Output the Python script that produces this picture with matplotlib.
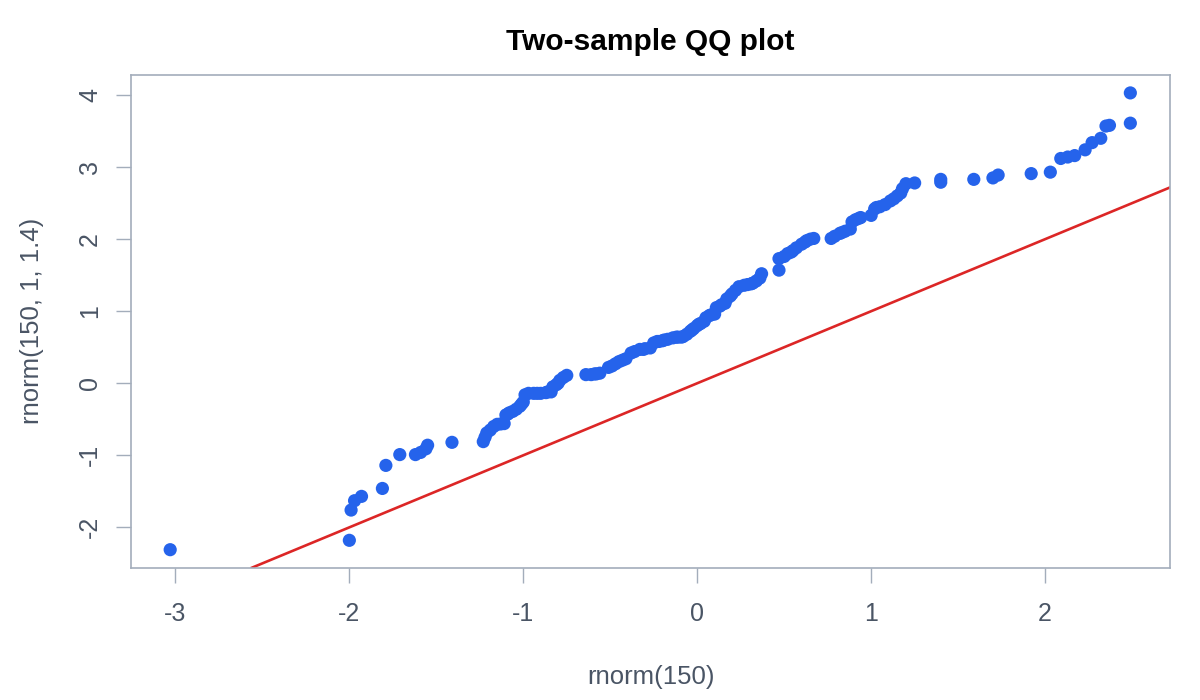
import numpy as np
import matplotlib
matplotlib.use("Agg")
import matplotlib.pyplot as plt

plt.rcParams['font.family'] = ['Liberation Sans', 'DejaVu Sans']

# sorted sample quantiles
x_vals = [-3.03, -2.00, -1.99, -1.97, -1.93, -1.81, -1.79, -1.71, -1.62, -1.59, -1.56, -1.55, -1.41,
          -1.23, -1.22, -1.21, -1.19, -1.17, -1.15, -1.13, -1.11, -1.10, -1.09, -1.08, -1.06,
          -1.04, -1.02, -1.01, -1.00, -0.99, -0.97, -0.94, -0.92, -0.90, -0.87, -0.86, -0.84,
          -0.83, -0.81, -0.80, -0.79, -0.77, -0.75,
          -0.64, -0.61, -0.59, -0.58, -0.56, -0.51, -0.49, -0.47, -0.45, -0.43, -0.41,
          -0.38, -0.36, -0.33, -0.31, -0.30, -0.27, -0.25, -0.23, -0.22, -0.20, -0.19, -0.17,
          -0.14, -0.12, -0.11, -0.09, -0.08, -0.06, -0.04, -0.03, -0.02, 0.00, 0.01, 0.02,
          0.04, 0.05, 0.07, 0.08, 0.10, 0.11, 0.13, 0.14, 0.16, 0.17, 0.19, 0.20,
          0.22, 0.24, 0.27, 0.29, 0.31, 0.32, 0.34, 0.36, 0.37,
          0.47, 0.47, 0.50, 0.52, 0.54, 0.55, 0.57, 0.60, 0.62, 0.63, 0.65, 0.67,
          0.77, 0.79, 0.82, 0.83, 0.85, 0.88, 0.89, 0.91, 0.93, 0.94, 1.00, 1.02,
          1.03, 1.05, 1.08, 1.11, 1.13, 1.15, 1.17, 1.18, 1.20, 1.25, 1.40, 1.40,
          1.59, 1.70, 1.73, 1.92, 2.03, 2.09, 2.13, 2.17, 2.23, 2.27, 2.32, 2.35,
          2.37, 2.49, 2.49]

y_vals = [-2.31, -2.18, -1.76, -1.63, -1.57, -1.46, -1.14, -0.99, -0.99, -0.96, -0.91, -0.86, -0.82,
          -0.81, -0.75, -0.69, -0.65, -0.60, -0.57, -0.565, -0.56, -0.44, -0.43, -0.41, -0.39,
          -0.36, -0.32, -0.29, -0.26, -0.16, -0.14, -0.14, -0.14, -0.14, -0.13, -0.12, -0.12,
          -0.05, -0.02, 0.00, 0.04, 0.08, 0.11,
          0.12, 0.12, 0.13, 0.13, 0.14, 0.22, 0.24, 0.27, 0.30, 0.32, 0.34,
          0.42, 0.44, 0.47, 0.47, 0.48, 0.49, 0.56, 0.58, 0.58, 0.59, 0.60, 0.61,
          0.63, 0.64, 0.64, 0.64, 0.65, 0.68, 0.72, 0.74, 0.76, 0.80, 0.82, 0.83,
          0.86, 0.91, 0.94, 0.95, 0.96, 1.05, 1.07, 1.09, 1.11, 1.17, 1.21, 1.24,
          1.29, 1.34, 1.36, 1.37, 1.38, 1.39, 1.42, 1.46, 1.52,
          1.57, 1.73, 1.76, 1.80, 1.82, 1.84, 1.88, 1.93, 1.96, 1.98, 2.00, 2.01,
          2.01, 2.04, 2.08, 2.09, 2.11, 2.14, 2.24, 2.27, 2.29, 2.30, 2.33, 2.42,
          2.44, 2.45, 2.48, 2.53, 2.56, 2.60, 2.64, 2.70, 2.77, 2.78, 2.79, 2.83,
          2.83, 2.85, 2.89, 2.91, 2.93, 3.12, 3.14, 3.16, 3.24, 3.34, 3.40, 3.57,
          3.58, 3.61, 4.03]

x_ticks = [-3, -2, -1, 0, 1, 2]
y_ticks = [-2, -1, 0, 1, 2, 3, 4]

spine_col = '#a3adbb'
text_col = '#4a5565'

fig = plt.figure(figsize=(12, 7), dpi=100)
ax = fig.add_axes([0.1095, 0.189, 0.8655, 0.704])

ax.scatter(np.sort(x_vals), np.sort(y_vals), s=90, color='#2563eb', edgecolors='none', zorder=3)
ax.axline((0, 0), slope=1, color='#dc2626', linewidth=1.9, zorder=2)

ax.set_xlim(-3.253, 2.718)
ax.set_ylim(-2.56, 4.28)
ax.set_xticks(x_ticks)
ax.set_yticks(y_ticks)
ax.set_xticklabels([str(t) for t in x_ticks])
ax.set_yticklabels([str(t) for t in y_ticks], rotation=90, va='center')

for sp in ax.spines.values():
    sp.set_color(spine_col)
    sp.set_linewidth(1.2)
ax.tick_params(axis='both', length=11, width=1.0, color=spine_col, labelcolor=text_col,
               labelsize=18)
ax.tick_params(axis='x', pad=14)
ax.tick_params(axis='y', pad=10)

ax.set_xlabel('rnorm(150)', fontsize=18.5, color=text_col, labelpad=28)
ax.set_ylabel('rnorm(150, 1, 1.4)', fontsize=18.5, color=text_col, labelpad=25)
ax.set_title('Two-sample QQ plot', fontsize=21.5, fontweight='bold', color='black', pad=18)

fig.savefig('out.png', dpi=100)
